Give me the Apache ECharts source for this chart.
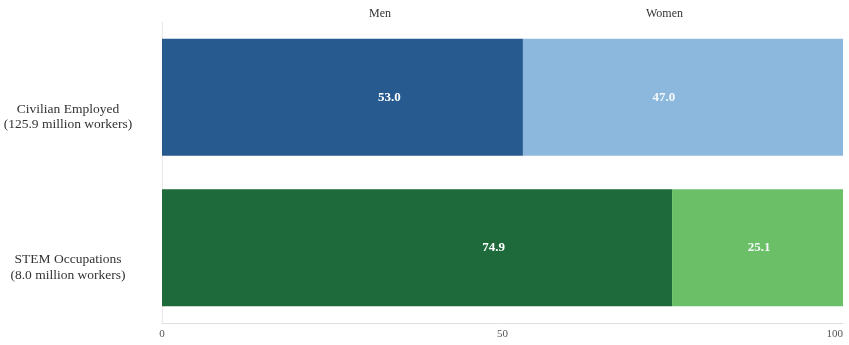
<!DOCTYPE html>
<html>
<head>
<meta charset="utf-8">
<script src="https://cdn.jsdelivr.net/npm/echarts@6/dist/echarts.min.js"></script>
<style>
  html, body { margin: 0; padding: 0; background: #ffffff; }
  #chart { width: 849px; height: 345px; }
</style>
</head>
<body>
<div id="chart"></div>
<script>
// Share of employed workers by sex, percent
const categories = [
  'Civilian Employed\n(125.9 million workers)',
  'STEM Occupations\n(8.0 million workers)'
];
const menValues = [53.0, 74.9];
const womenValues = [47.0, 25.1];
const seriesNames = ['Men', 'Women'];
const axisTicks = [0, 50, 100];

const menColors = ['#275a8e', '#1e6a3b'];
const womenColors = ['#8cb8de', '#6bbf67'];
// horizontal placement of each value label inside its bar
const menLabelPos = ['63%', '65%'];
const womenLabelPos = ['44%', '51%'];

const FONT = '"Liberation Serif", "DejaVu Serif", serif';

function buildData(values, colors, labelPos) {
  return values.map((v, i) => ({
    value: v,
    itemStyle: { color: colors[i] },
    label: { position: [labelPos[i], '50%'] }
  }));
}

const chart = echarts.init(document.getElementById('chart'), null, { renderer: 'canvas' });

chart.setOption({
  backgroundColor: '#ffffff',
  animation: false,
  grid: { left: 162, right: 6, top: 22, bottom: 22, containLabel: false, outerBoundsMode: 'none' },
  graphic: [
    { type: 'text', left: 369, top: 8, style: { text: seriesNames[0], font: '12px ' + FONT, fill: '#333' } },
    { type: 'text', left: 646, top: 8, style: { text: seriesNames[1], font: '12px ' + FONT, fill: '#333' } }
  ],
  xAxis: {
    type: 'value',
    min: axisTicks[0],
    max: axisTicks[axisTicks.length - 1],
    interval: axisTicks[1] - axisTicks[0],
    splitLine: { show: false },
    axisLine: { show: true, lineStyle: { color: '#e2dede', width: 1 } },
    axisTick: { show: false },
    axisLabel: {
      color: '#555', fontFamily: FONT, fontSize: 11, margin: 6,
      alignMaxLabel: 'right'
    }
  },
  yAxis: {
    type: 'category',
    inverse: true,
    data: categories,
    axisLine: { show: true, lineStyle: { color: '#ebe8e8', width: 1 } },
    axisTick: { show: false },
    axisLabel: {
      color: '#333',
      fontFamily: FONT,
      fontSize: 13.5,
      lineHeight: 15.5,
      align: 'center',
      verticalAlign: 'top',
      margin: 94,
      padding: [4, 0, 0, 0]
    }
  },
  series: [
    {
      name: seriesNames[0],
      type: 'bar',
      stack: 'total',
      barWidth: 117,
      data: buildData(menValues, menColors, menLabelPos),
      label: {
        show: true,
        align: 'center',
        verticalAlign: 'middle',
        color: '#ffffff',
        fontFamily: FONT,
        fontWeight: 'bold',
        fontSize: 13,
        formatter: p => p.value.toFixed(1)
      }
    },
    {
      name: seriesNames[1],
      type: 'bar',
      stack: 'total',
      barWidth: 117,
      data: buildData(womenValues, womenColors, womenLabelPos),
      label: {
        show: true,
        align: 'center',
        verticalAlign: 'middle',
        color: '#f4f8fb',
        fontFamily: FONT,
        fontWeight: 'bold',
        fontSize: 13,
        formatter: p => p.value.toFixed(1)
      }
    }
  ]
});
</script>
</body>
</html>
